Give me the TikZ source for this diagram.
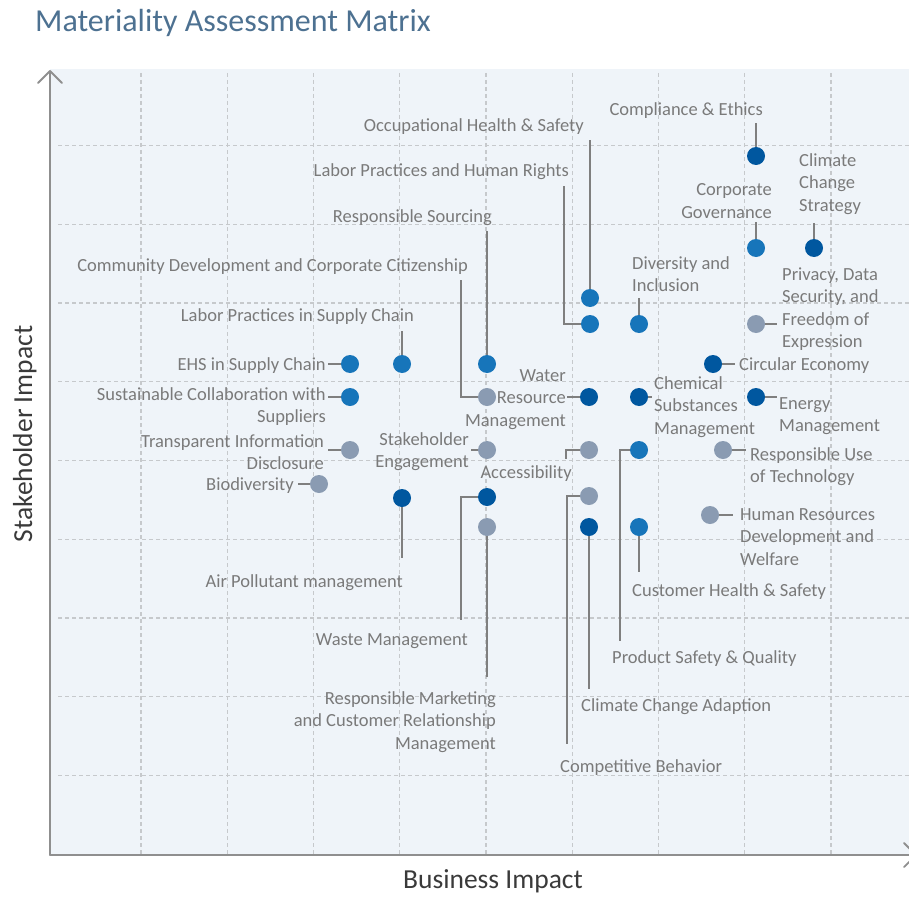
\documentclass[tikz,border=0pt]{standalone}
\usepackage{fontspec}
\setmainfont{Carlito}
\definecolor{panelbg}{HTML}{EFF4F9}
\definecolor{gridgray}{HTML}{C6C9CC}
\definecolor{axisgray}{HTML}{8F8F8F}
\definecolor{conngray}{HTML}{7F7F7F}
\definecolor{labelgray}{HTML}{7A7A7A}
\definecolor{titleblue}{HTML}{4D7191}
\definecolor{axislabel}{HTML}{3A3A3A}
\definecolor{dotdark}{HTML}{00579F}
\definecolor{dotmid}{HTML}{1775BA}
\definecolor{dotgray}{HTML}{8A9BB2}
\begin{document}
\begin{tikzpicture}[x=1pt,y=-1pt,
  lbl/.style={text=labelgray, inner sep=0pt, font=\fontsize{18.5}{22.3}\selectfont, execute at begin node=\strut},
  lblL/.style={lbl, anchor=north west, align=left},
  lblR/.style={lbl, anchor=north east, align=right},
  multi/.style={yshift=-2.5pt},
  dotbase/.style={circle, inner sep=0pt, minimum size=18pt},
  dk/.style={dotbase, fill=dotdark},
  md/.style={dotbase, fill=dotmid},
  gy/.style={dotbase, fill=dotgray},
  conn/.style={draw=conngray, line width=1.5pt},
  gridline/.style={draw=gridgray, line width=1.1pt, dash pattern=on 4pt off 3pt},
  axisline/.style={draw=axisgray, line width=1.8pt, line cap=round, line join=round}]
\useasboundingbox (0,0) rectangle (909,896);
% panel
\fill[panelbg] (50,69) rectangle (912,855);
% grid
\foreach \i in {0,...,8} {
  \draw[gridline] ({141+86.25*\i},73) -- ({141+86.25*\i},854);
  \draw[gridline] (58,{145.5+78.75*\i}) -- (912,{145.5+78.75*\i});
}
% axes
\draw[axisline] (50,855) -- (50,71);
\draw[axisline] (38,83) -- (50,71) -- (62,83);
\draw[axisline] (50,855) -- (916,855);
\draw[axisline] (904,843) -- (916,855) -- (904,867);
% titles
\node[anchor=base west, inner sep=0pt, text=titleblue, font=\fontsize{32}{36}\selectfont] (title) at (35,32) {Materiality Assessment Matrix};
\node[anchor=base, inner sep=0pt, text=axislabel, font=\fontsize{27.5}{32}\selectfont] (xlab) at (493,888) {Business Impact};
\node[anchor=base, inner sep=0pt, text=axislabel, font=\fontsize{27.5}{32}\selectfont, rotate=90] (ylab) at (32,434) {Stakeholder Impact};

% ---------- dots ----------
\node[dk] (dCE)  at (756,156) {};
\node[md] (dCG)  at (756,248) {};
\node[dk] (dCCS) at (814,248) {};
\node[md] (dOHS) at (590,298) {};
\node[md] (dLHR) at (590,324) {};
\node[md] (dRS)  at (487,364) {};
\node[gy] (dCD)  at (487,397) {};
\node[md] (dDI)  at (639,324) {};
\node[gy] (dPD)  at (756,324) {};
\node[md] (dLSC) at (402,364) {};
\node[md] (dEHS) at (350,364) {};
\node[dk] (dCEc) at (713,364) {};
\node[md] (dSC)  at (350,397) {};
\node[dk] (dWR)  at (589,397) {};
\node[dk] (dCS)  at (639,397) {};
\node[dk] (dEM)  at (756,397) {};
\node[gy] (dTI)  at (350,450) {};
\node[gy] (dSE)  at (487,450) {};
\node[gy] (dAC)  at (589,450) {};
\node[gy] (dRUT) at (723,450) {};
\node[md] (dPSQ) at (639,450) {};
\node[gy] (dBD)  at (319,484) {};
\node[dk] (dAP)  at (402,498) {};
\node[dk] (dWM)  at (487,497) {};
\node[gy] (dCB)  at (589,496) {};
\node[gy] (dHR)  at (710,515) {};
\node[gy] (dRM)  at (487,527) {};
\node[dk] (dCCA) at (589,527) {};
\node[md] (dCHS) at (639,527) {};

% ---------- connector ends ----------
\coordinate (cCE)  at (756,123);
\coordinate (cCG)  at (756,222);
\coordinate (cCCS) at (814,223);
\coordinate (cOHS) at (590,140);
\coordinate (cLHR) at (564,186);
\coordinate (cRS)  at (487,231);
\coordinate (cCD)  at (461,280);
\coordinate (cDI)  at (639,298);
\coordinate (cPD)  at (777,324);
\coordinate (cLSC) at (402,331);
\coordinate (cEHS) at (328,364);
\coordinate (cCEc) at (735,364);
\coordinate (cSC)  at (328,397);
\coordinate (cWR)  at (567,397);
\coordinate (cCS)  at (652,397);
\coordinate (cEM)  at (777,397);
\coordinate (cTI)  at (328,450);
\coordinate (cSE)  at (471,450);
\coordinate (cAC)  at (566,459);
\coordinate (cRUT) at (746,450);
\coordinate (cPSQ) at (620,641);
\coordinate (cBD)  at (298,484);
\coordinate (cAP)  at (402,558);
\coordinate (cWM)  at (461,620);
\coordinate (cCB)  at (567,744);
\coordinate (cHR)  at (733,515);
\coordinate (cRM)  at (487,677);
\coordinate (cCCA) at (589,689);
\coordinate (cCHS) at (639,572);

% ---------- connectors ----------
\draw[conn] (dCE) -- (cCE);
\draw[conn] (dCG) -- (cCG);
\draw[conn] (dCCS) -- (cCCS);
\draw[conn] (dOHS) -- (cOHS);
\draw[conn] (dLHR) -| (cLHR);
\draw[conn] (dRS) -- (cRS);
\draw[conn] (dCD) -| (cCD);
\draw[conn] (dDI) -- (cDI);
\draw[conn] (dPD) -- (cPD);
\draw[conn] (dLSC) -- (cLSC);
\draw[conn] (dEHS) -- (cEHS);
\draw[conn] (dCEc) -- (cCEc);
\draw[conn] (dSC) -- (cSC);
\draw[conn] (dWR) -- (cWR);
\draw[conn] (dCS) -- (cCS);
\draw[conn] (dEM) -- (cEM);
\draw[conn] (dTI) -- (cTI);
\draw[conn] (dSE) -- (cSE);
\draw[conn] (dAC) -| (cAC);
\draw[conn] (dRUT) -- (cRUT);
\draw[conn] (dPSQ) -| (cPSQ);
\draw[conn] (dBD) -- (cBD);
\draw[conn] (dAP) -- (cAP);
\draw[conn] (dWM) -| (cWM);
\draw[conn] (dCB) -| (cCB);
\draw[conn] (dHR) -- (cHR);
\draw[conn] (dRM) -- (cRM);
\draw[conn] (dCCA) -- (cCCA);
\draw[conn] (dCHS) -- (cCHS);

% ---------- labels ----------
\node[lblR] (lCE)  at (763,100) {Compliance \& Ethics};
\node[lblR, multi] (lCG)  at (772,181) {Corporate\\Governance};
\node[lblL, multi] (lCCS) at (799,151) {Climate\\Change\\Strategy};
\node[lblR] (lOHS) at (584,116) {Occupational Health \& Safety};
\node[lblR] (lLHR) at (569,161) {Labor Practices and Human Rights};
\node[lblR] (lRS)  at (492,207) {Responsible Sourcing};
\node[lblR] (lCD)  at (468,256) {Community Development and Corporate Citizenship};
\node[lblL, multi] (lDI)  at (632,254) {Diversity and\\Inclusion};
\node[lblL, multi] (lPD)  at (782,265) {Privacy, Data\\Security, and\\Freedom of\\Expression};
\node[lblR] (lLSC) at (414,306) {Labor Practices in Supply Chain};
\node[lblR] (lEHS) at (326,355) {EHS in Supply Chain};
\node[lblL] (lCEc) at (739,355) {Circular Economy};
\node[lblR, multi] (lSC)  at (326,385) {Sustainable Collaboration with\\Suppliers};
\node[lblR, multi] (lWR)  at (566,367) {Water\\Resource\\Management};
\node[lblL, multi] (lCS)  at (654,374) {Chemical\\Substances\\Management};
\node[lblL, multi] (lEM)  at (779,395) {Energy\\Management};
\node[lblR, multi] (lTI)  at (324,432) {Transparent Information\\Disclosure};
\node[lblR, multi] (lSE)  at (469,430) {Stakeholder\\Engagement};
\node[lblR] (lAC)  at (572,463) {Accessibility};
\node[lblL, multi] (lRUT) at (750,445) {Responsible Use\\of Technology};
\node[lblL] (lPSQ) at (612,648) {Product Safety \& Quality};
\node[lblR] (lBD)  at (294,475) {Biodiversity};
\node[lblR] (lAP)  at (403,572) {Air Pollutant management};
\node[lblR] (lWM)  at (468,630) {Waste Management};
\node[lblL] (lCB)  at (560,757) {Competitive Behavior};
\node[lblL, multi] (lHR)  at (740,506) {Human Resources\\Development and\\Welfare};
\node[lblR, multi] (lRM)  at (496,689) {Responsible Marketing\\and Customer Relationship\\Management};
\node[lblL] (lCCA) at (581,696) {Climate Change Adaption};
\node[lblL] (lCHS) at (632,581) {Customer Health \& Safety};
\end{tikzpicture}
\end{document}
